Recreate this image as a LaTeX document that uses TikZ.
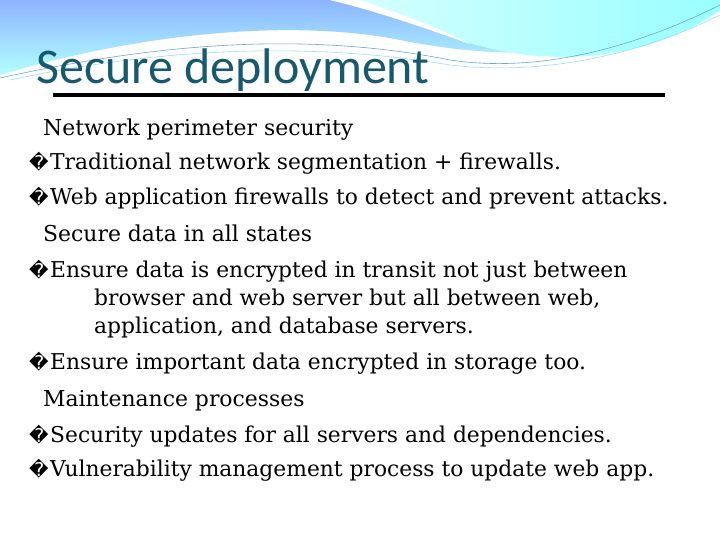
\documentclass[tikz,border=0pt]{standalone}
\usepackage{fontspec}
\setmainfont{DejaVu Serif}
\newfontfamily\titlefont{Carlito}
\newfontfamily\bulfont{DejaVu Sans}
\begin{document}
\begin{tikzpicture}[x=1pt,y=-1pt,
  lvl/.style={anchor=base west,inner sep=0pt,font=\fontsize{21.9}{26}\selectfont},
  sub/.style={anchor=base west,inner sep=0pt,font=\fontsize{21.8}{28}\selectfont,align=left},
  bul/.style={anchor=base west,inner sep=0pt,font=\bulfont\fontsize{19}{22}\selectfont}]
\useasboundingbox (0,0) rectangle (720,540);
\fill[white] (0,0) rectangle (720,540);
% top waves
\shade[top color=cyan!35!blue!45,bottom color=cyan!30] (0,0) -- (720,0) -- (720,10) .. controls (600,60) and (500,60) .. (400,40) .. controls (300,20) and (150,30) .. (0,75) -- cycle;
\shade[left color=cyan!15,right color=cyan!40] (330,0) -- (720,0) -- (720,10) .. controls (650,60) and (550,70) .. (460,40) .. controls (420,25) and (380,10) .. (330,0) -- cycle;
\fill[white] (330,0) .. controls (380,12) and (430,30) .. (470,44) .. controls (440,28) and (390,10) .. (360,0) -- cycle;
\draw[cyan!60!blue!60,line width=0.6pt] (0,78) .. controls (150,45) and (300,30) .. (450,60) .. controls (550,75) and (650,40) .. (720,5);
\draw[cyan!40,line width=0.6pt] (10,80) .. controls (150,50) and (300,40) .. (450,65) .. controls (560,78) and (660,45) .. (720,15);
% title
\node[anchor=base west,inner sep=0pt,font=\titlefont\fontsize{50}{54}\selectfont,text={rgb,255:red,23;green,90;blue,112}] (title) at (36,84) {Secure deployment};
\draw[line width=4pt] (53,95) coordinate (l1) -- (665,95) coordinate (l2);
% body
\node[lvl] (h1) at (43,136) {Network perimeter security};
\node[bul] (b1) at (29,170) {�}; \node[sub] (t1) at (50,170) {Traditional network segmentation + firewalls.};
\node[bul] (b2) at (29,205) {�}; \node[sub] (t2) at (50,205) {Web application firewalls to detect and prevent attacks.};
\node[lvl] (h2) at (43,241) {Secure data in all states};
\node[bul] (b3) at (29,277) {�}; \node[sub] (t3) at (50,277) {Ensure data is encrypted in transit not just between};
\node[sub] (t3b) at (94,305) {browser and web server but all between web,};
\node[sub] (t3c) at (94,333) {application, and database servers.};
\node[bul] (b4) at (29,369) {�}; \node[sub] (t4) at (50,369) {Ensure important data encrypted in storage too.};
\node[lvl] (h3) at (43,406) {Maintenance processes};
\node[bul] (b5) at (29,442) {�}; \node[sub] (t5) at (50,442) {Security updates for all servers and dependencies.};
\node[bul] (b6) at (29,476) {�}; \node[sub] (t6) at (50,476) {Vulnerability management process to update web app.};
\end{tikzpicture}
\end{document}
